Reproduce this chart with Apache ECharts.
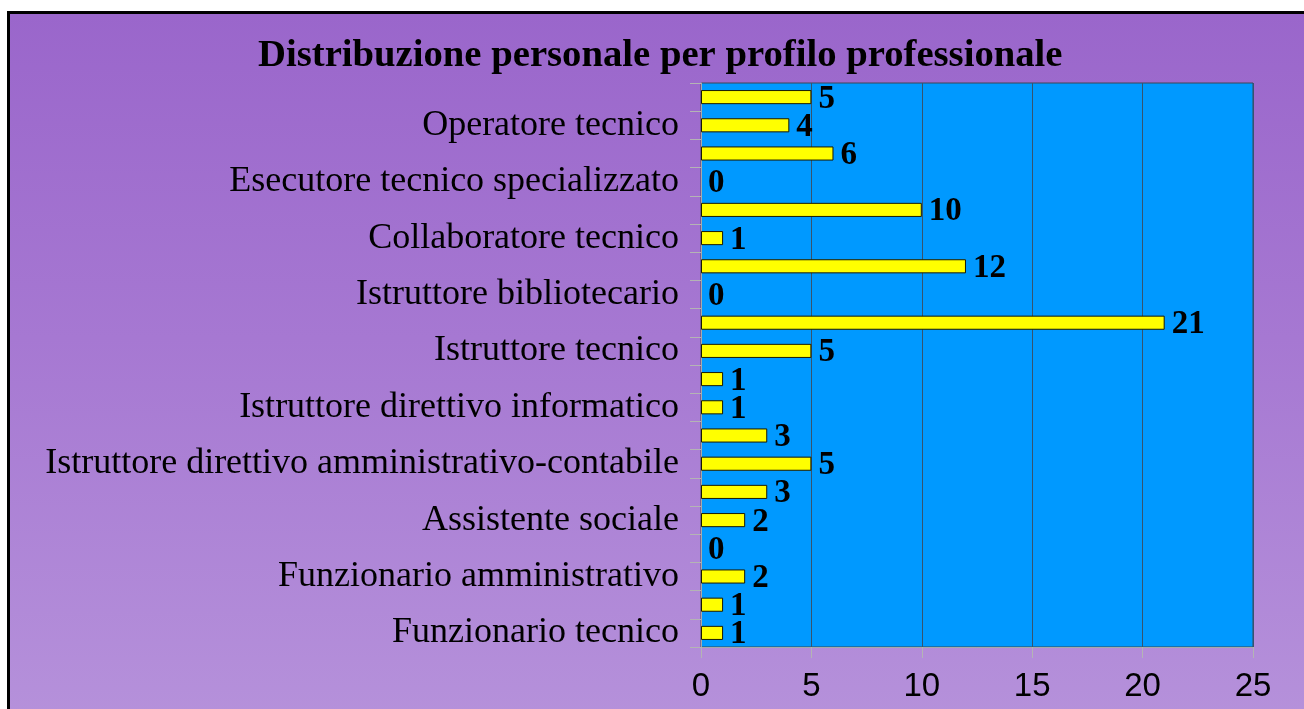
<!DOCTYPE html>
<html>
<head>
<meta charset="utf-8">
<script src="https://cdn.jsdelivr.net/npm/echarts@6/dist/echarts.min.js"></script>
<style>
  html, body { margin: 0; padding: 0; background: #ffffff; overflow: hidden; }
  #wrap { position: relative; width: 1304px; height: 709px; overflow: hidden; background: #ffffff; }
  #frame { position: absolute; left: 7px; top: 11px; width: 1310px; height: 720px;
           border: 3px solid #000; background: linear-gradient(to bottom, #9a66cb 0%, #a678d2 45%, #b692db 100%); }
  #chart { position: absolute; left: 0; top: 0; width: 1304px; height: 709px; }
</style>
</head>
<body>
<div id="wrap">
  <div id="frame"></div>
  <div id="chart"></div>
</div>
<script>
const titleText = 'Distribuzione personale per profilo professionale';
const categories = [
  'Funzionario tecnico',
  'Funzionario contabile',
  'Funzionario amministrativo',
  'Funzionario di vigilanza',
  'Assistente sociale',
  'Istruttore direttivo di vigilanza',
  'Istruttore direttivo amministrativo-contabile',
  'Istruttore direttivo tecnico',
  'Istruttore direttivo informatico',
  'Istruttore direttivo socio-culturale',
  'Istruttore tecnico',
  'Istruttore amministrativo-contabile',
  'Istruttore bibliotecario',
  'Istruttore di vigilanza',
  'Collaboratore tecnico',
  'Collaboratore amministrativo',
  'Esecutore tecnico specializzato',
  'Esecutore amministrativo',
  'Operatore tecnico',
  'Operatore amministrativo'
];
const values = [1, 1, 2, 0, 2, 3, 5, 3, 1, 1, 5, 21, 0, 12, 1, 10, 0, 6, 4, 5];
const xTicks = { min: 0, max: 25, interval: 5 };

const serif = "'Liberation Serif', 'Times New Roman', serif";
const sans = "'Liberation Sans', Arial, sans-serif";

const barData = values.map(v => (v === 0 ? { value: v, itemStyle: { borderWidth: 0 } } : v));

const chart = echarts.init(document.getElementById('chart'), null, { renderer: 'canvas' });
chart.setOption({
  backgroundColor: 'transparent',
  animation: false,
  title: {
    text: titleText,
    left: 258,
    top: 37,
    padding: 0,
    textStyle: { fontFamily: serif, fontWeight: 'bold', fontSize: 38.7, color: '#000' }
  },
  grid: {
    left: 701, top: 83, width: 552, height: 564,
    show: true, backgroundColor: '#0099ff', borderColor: '#3c4656', borderWidth: 1,
    containLabel: false
  },
  xAxis: {
    type: 'value',
    min: xTicks.min, max: xTicks.max, interval: xTicks.interval,
    axisLine: { show: true, lineStyle: { color: '#a9a9a9', width: 1 } },
    axisTick: { show: true, length: 11, lineStyle: { color: '#b4b4b4' } },
    axisLabel: { fontFamily: sans, fontSize: 33, color: '#000', margin: 23 },
    splitLine: { show: true, lineStyle: { color: '#36546e', width: 1 } }
  },
  yAxis: {
    type: 'category',
    data: categories,
    axisLine: { show: true, lineStyle: { color: '#a9a9a9', width: 1 } },
    axisTick: { show: true, length: 11, interval: 0, lineStyle: { color: '#b4b4b4' } },
    axisLabel: { interval: 1, fontFamily: serif, fontSize: 36, color: '#000', margin: 22 },
    splitLine: { show: false }
  },
  series: [{
    type: 'bar',
    data: barData,
    barWidth: '50%',
    itemStyle: { color: '#ffff00', borderColor: '#1a1a00', borderWidth: 1 },
    label: {
      show: true, position: 'right', distance: 7, offset: [0, 2],
      fontFamily: serif, fontWeight: 'bold', fontSize: 33, color: '#000'
    }
  }]
});
</script>
</body>
</html>
